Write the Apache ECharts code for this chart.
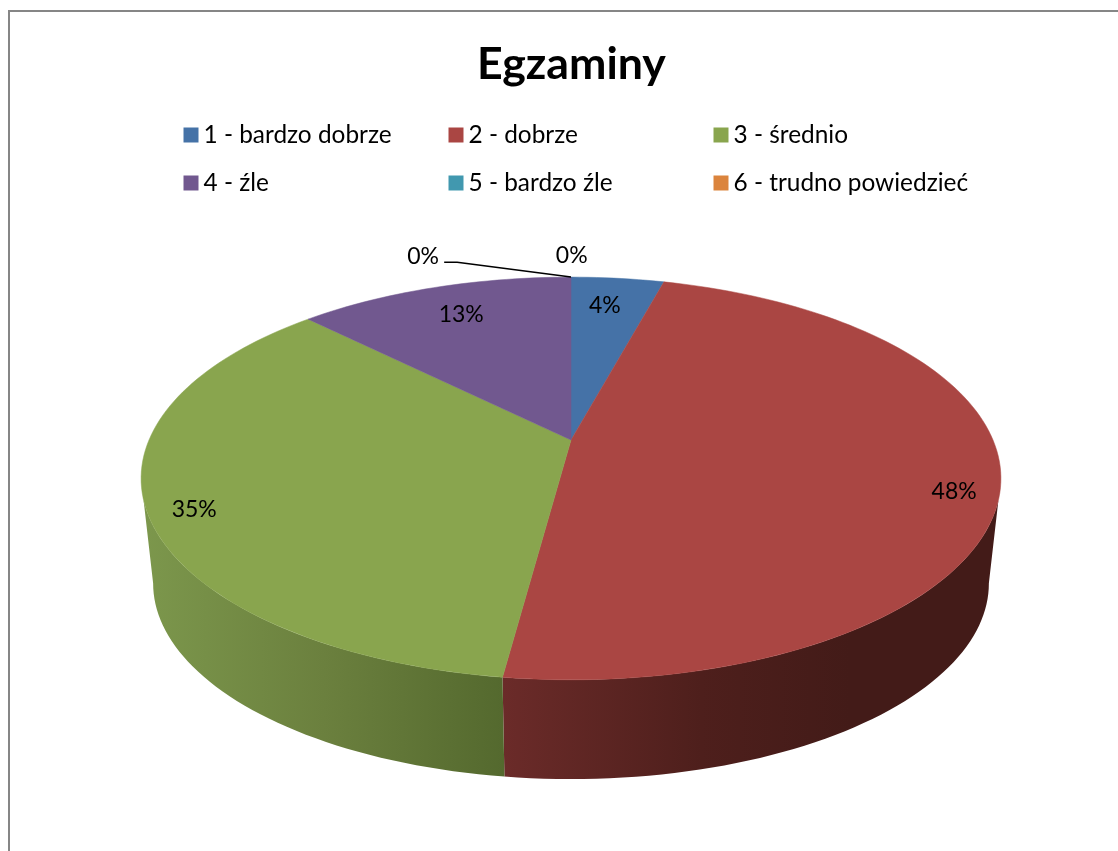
<!DOCTYPE html>
<html><head><meta charset="utf-8">
<style>html,body{margin:0;padding:0;background:#fff}#c{width:1118px;height:851px}</style>
<script src="https://cdn.jsdelivr.net/npm/echarts@6/dist/echarts.min.js"></script></head>
<body><div id="c"></div>
<script>
const title = 'Egzaminy';
const categories = ['1 - bardzo dobrze','2 - dobrze','3 - średnio','4 - źle','5 - bardzo źle','6 - trudno powiedzieć'];
const values = [4.2,47.9,35.4,12.5,0,0];
const colors = ['#4572A7','#AA4643','#89A54E','#71588F','#4198AF','#DB843D'];
const wallStops = [null,
  [[0,'#6B2B29'],[0.4,'#4E1F1C'],[0.7,'#431B18'],[1,'#431B18']],
  [[0,'#7C974C'],[0.5,'#6B803E'],[1,'#54692E']], null, null, null];
const legendLeft = [178.5,443.5,708.5,178.5,443.5,708.5];
const legendTop = [118,118,118,166,166,166];
const labelRadius = [0.81,0.90,0.90,0.80,1.166,1.24];
const labelShift = [-1,4.8,-3,0.7,0.1,-20.2];

// perspective projection of the flat pie's circle onto the screen
const CX=571, Y0=440, AX=422, BY=194, K=0.191;
const BOTTOM_Y0=546, BOTTOM_SCALE=0.972;
const TOP_LIM=[107,253], BOT_LIM=[101,259];
function project(r,deg,y0,s){
  const t=deg*Math.PI/180,u=r*Math.sin(t),v=r*Math.cos(t),d=1+K*v;
  return [CX+s*AX*u/d, y0-s*BY*v/d];
}
function rim(a,b,y0,s){
  const n=Math.max(1,Math.ceil((b-a)/1.5)),pts=[];
  for(let i=0;i<=n;i++)pts.push(project(1,a+(b-a)*i/n,y0,s));
  return pts;
}
let acc=0;
const spans=values.map(v=>{const s=[acc,acc+v,v];acc+=v;return s;});
const total=acc;

function renderSlice(i){
  return function(params,api){
    const a=api.value(0)/total*360,b=api.value(1)/total*360,val=api.value(2),ch=[];
    const topA=Math.max(a,TOP_LIM[0]),topB=Math.min(b,TOP_LIM[1]);
    if(wallStops[i]&&topA<topB){
      const botA=a<BOT_LIM[0]?BOT_LIM[0]:a,botB=b>BOT_LIM[1]?BOT_LIM[1]:b;
      const pts=rim(topA,topB,Y0,1).concat(rim(botA,botB,BOTTOM_Y0,BOTTOM_SCALE).reverse());
      ch.push({type:'polygon',shape:{points:pts},style:{fill:{type:'linear',x:0,y:0,x2:1,y2:0,
        colorStops:wallStops[i].map(s=>({offset:s[0],color:s[1]}))}}});
    }
    if(val>0){
      const pts=[[CX,Y0]].concat(rim(a,b,Y0,1));
      ch.push({type:'polygon',shape:{points:pts},style:{fill:colors[i],stroke:colors[i],lineWidth:0.5}});
    }
    const mid=(a+b)/2+labelShift[i];
    const p=project(labelRadius[i],mid,Y0,1);
    if(i===5){
      const end=project(1,b,Y0,1);
      ch.push({type:'polyline',shape:{points:[[p[0]+21,p[1]+7],[p[0]+34,p[1]+7],end]},
        style:{stroke:'#000',lineWidth:1.5,fill:null},z2:5});
    }
    ch.push({type:'text',x:p[0],y:p[1]+1,z2:6,style:{text:Math.round(val)+'%',fill:'#000',font:'23px Lato',align:'center',verticalAlign:'middle'}});
    return {type:'group',children:ch};
  };
}
const chart=echarts.init(document.getElementById('c'),null,{renderer:'canvas',width:1118,height:851});
chart.setOption({
  animation:false,
  backgroundColor:'#fff',
  title:{text:title,left:566.5,top:37,textAlign:'center',textStyle:{fontFamily:'Lato',fontWeight:'bold',fontSize:44.7,color:'#000'}},
  legend:categories.map((c,i)=>({data:[c],left:legendLeft[i],top:legendTop[i],icon:'rect',itemWidth:15,itemHeight:15,itemGap:7,selectedMode:false,
    textStyle:{fontFamily:'Lato',fontSize:24.4,color:'#000',padding:[0,0,0,0]}})),
  graphic:[{type:'rect',silent:true,shape:{x:9,y:11,width:1300,height:1000},style:{fill:null,stroke:'#868686',lineWidth:2}}],
  series:categories.map((c,i)=>({type:'custom',name:c,coordinateSystem:'none',itemStyle:{color:colors[i]},
    data:[spans[i]],renderItem:renderSlice(i),silent:true}))
});
</script></body></html>
